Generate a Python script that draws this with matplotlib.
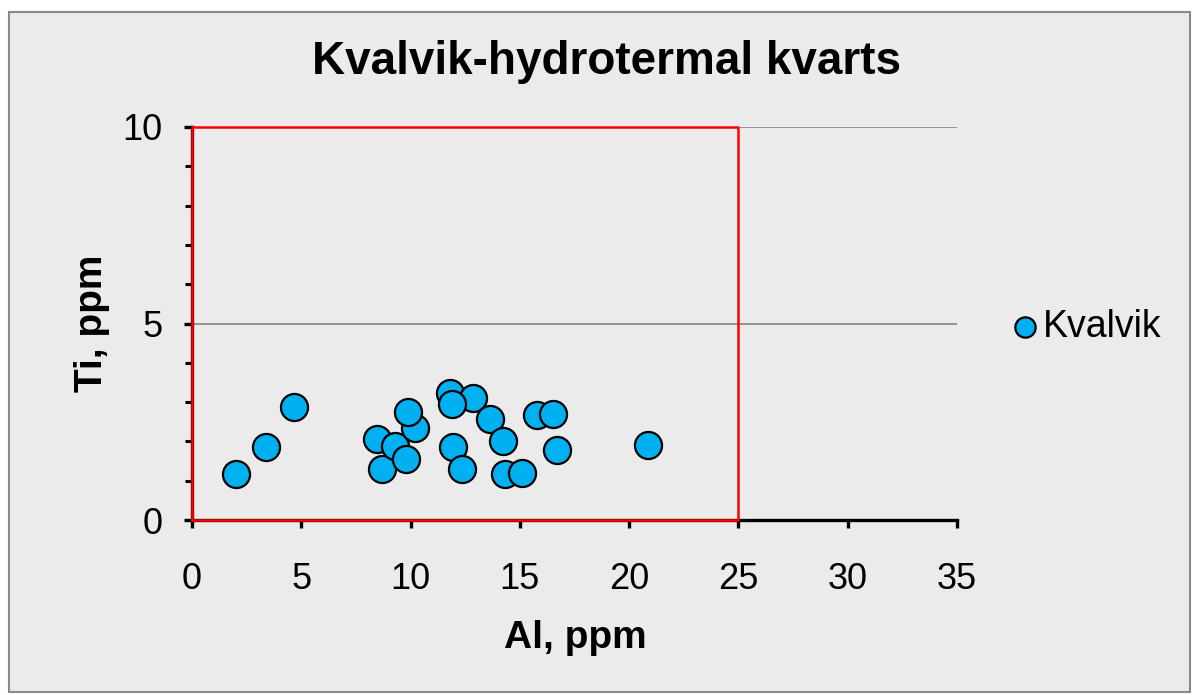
import matplotlib.pyplot as plt
from matplotlib.patches import Rectangle
from matplotlib.ticker import MultipleLocator

plt.rcParams['font.family'] = ['Liberation Sans', 'DejaVu Sans']

# Kvalvik data
al_ppm = [2.0, 3.4, 4.65, 8.45, 8.7, 9.3, 9.8, 10.2, 9.9, 11.8, 12.85, 11.9,
          11.95, 12.35, 13.65, 14.25, 14.3, 15.1, 15.8, 16.5, 16.7, 20.85]
ti_ppm = [1.17, 1.87, 2.88, 2.07, 1.29, 1.89, 1.55, 2.35, 2.76, 3.24, 3.11, 2.94,
          1.86, 1.31, 2.58, 2.02, 1.18, 1.19, 2.66, 2.69, 1.77, 1.90]

# red box limits
box_x = [0, 25, 25, 0, 0]
box_y = [0, 0, 10, 10, 0]

bg = '#ebebeb'
fig = plt.figure(figsize=(11.97, 6.95), dpi=100, facecolor='white')
fig.patches.append(Rectangle((9/1197, 1 - 692/695), 1181/1197, 680/695,
                             transform=fig.transFigure, facecolor=bg,
                             edgecolor='#8a8a8a', linewidth=1.5, zorder=-10))

ax = fig.add_axes([192/1197, 1 - 520/695, 765/1197, 393/695])
ax.set_facecolor(bg)
ax.patch.set_alpha(0)

ax.set_xlim(0, 35)
ax.set_ylim(0, 10)
ax.xaxis.set_major_locator(MultipleLocator(5))
ax.yaxis.set_major_locator(MultipleLocator(5))
ax.yaxis.set_minor_locator(MultipleLocator(1))

ax.grid(axis='y', which='major', color='#8c8c8c', linewidth=1.3, zorder=1)
ax.set_axisbelow(True)

for s in ['top', 'right']:
    ax.spines[s].set_visible(False)
for s in ['left', 'bottom']:
    ax.spines[s].set_linewidth(2.4)
    ax.spines[s].set_color('black')

ax.tick_params(axis='both', which='major', direction='out', length=6, width=2.4,
               labelsize=26)
ax.tick_params(axis='x', which='major', pad=24)
ax.tick_params(axis='y', which='major', pad=15)
ax.tick_params(axis='y', which='minor', direction='out', length=5, width=2.2)

ax.plot(box_x, box_y, color='#ff0000', linewidth=1.8, zorder=4, clip_on=False)

ax.scatter(al_ppm, ti_ppm, s=380, color='#00b0f0', edgecolors='black',
           linewidths=1.6, zorder=5, clip_on=False, label='Kvalvik')

fig.text(606/1197, 1 - 62/695, 'Kvalvik-hydrotermal kvarts', ha='center', va='center',
         fontsize=33, fontweight='bold')
fig.text(575/1197, 1 - 638/695, 'Al, ppm', ha='center', va='center',
         fontsize=28, fontweight='bold')
fig.text(92/1197, 1 - 323/695, 'Ti, ppm', ha='center', va='center',
         fontsize=28, fontweight='bold', rotation=90)

leg = ax.legend(loc='center left', bbox_to_anchor=(1015/1197, 1 - 327/695),
                bbox_transform=fig.transFigure, frameon=False, fontsize=27,
                handletextpad=0.2, markerscale=0.75, borderaxespad=0,
                borderpad=0, handlelength=0.55)

fig.savefig('out.png', dpi=100, facecolor='white')
